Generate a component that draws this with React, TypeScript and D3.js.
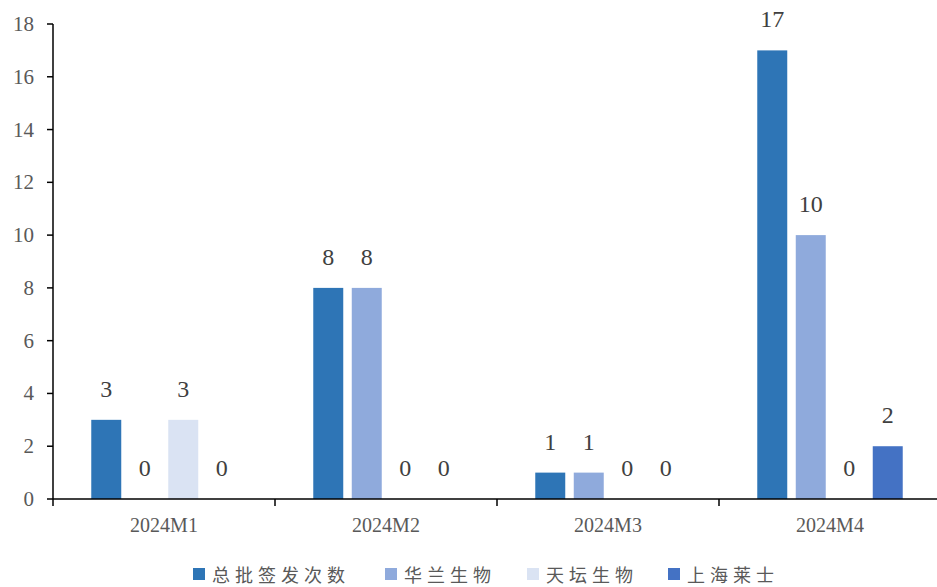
import React from "react";
import * as d3 from "d3";

const categories = ["2024M1", "2024M2", "2024M3", "2024M4"];
const seriesNames = ["总批签发次数", "华兰生物", "天坛生物", "上海莱士"];
const totalValues = [3, 8, 1, 17];
const hualanValues = [0, 8, 1, 10];
const tiantanValues = [3, 0, 0, 0];
const laishiValues = [0, 0, 0, 2];
const yTicks = [0, 2, 4, 6, 8, 10, 12, 14, 16, 18];
const colors = ["#2E75B6", "#8FAADC", "#DAE3F3", "#4472C4"];

const W = 937;
const H = 587;
const serif = "'Liberation Serif', 'DejaVu Serif', serif";
const cjk = "'Noto Sans CJK SC', sans-serif";

export default function App() {
  const seriesValues = [totalValues, hualanValues, tiantanValues, laishiValues];
  const x = d3.scaleBand<string>().domain(categories).range([53, 941]).paddingInner(0).paddingOuter(0);
  const xi = d3
    .scaleBand<string>()
    .domain(seriesNames)
    .range([0, x.bandwidth()])
    .paddingInner(0.221)
    .paddingOuter(0.994);
  const y = d3.scaleLinear().domain([0, 18]).range([499, 24]);

  const legendX = [193, 385, 527, 668];

  return (
    <svg
      width={W}
      height={H}
      style={{ position: "absolute", left: 0, top: 0, background: "#fff" }}
    >
      {categories.map((c, ci) => (
        <g key={c}>
          {seriesNames.map((s, si) => {
            const v = seriesValues[si][ci];
            const bx = (x(c) as number) + (xi(s) as number);
            const bw = xi.bandwidth();
            return (
              <g key={s}>
                {v > 0 && (
                  <rect x={bx} y={y(v)} width={bw} height={y(0) - y(v)} fill={colors[si]} />
                )}
                <text
                  x={bx + bw / 2}
                  y={y(v) - 31}
                  textAnchor="middle"
                  dominantBaseline="central"
                  fontFamily={serif}
                  fontSize={24}
                  fill="#404040"
                >
                  {v}
                </text>
              </g>
            );
          })}
        </g>
      ))}

      <line x1={53} x2={53} y1={y(18)} y2={y(0)} stroke="#000" strokeWidth={1.5} />
      {yTicks.map((t) => (
        <g key={t}>
          <line x1={47} x2={53} y1={y(t)} y2={y(t)} stroke="#000" strokeWidth={1.5} />
          <text
            x={34}
            y={y(t)}
            textAnchor="end"
            dominantBaseline="central"
            fontFamily={serif}
            fontSize={21}
            fill="#595959"
          >
            {t}
          </text>
        </g>
      ))}

      <line x1={53} x2={W} y1={y(0)} y2={y(0)} stroke="#000" strokeWidth={1.5} />
      {categories.map((c) => (
        <g key={c}>
          <line
            x1={x(c) as number}
            x2={x(c) as number}
            y1={y(0)}
            y2={y(0) + 7}
            stroke="#000"
            strokeWidth={1.5}
          />
          <text
            x={(x(c) as number) + x.bandwidth() / 2}
            y={525}
            textAnchor="middle"
            dominantBaseline="central"
            fontFamily={serif}
            fontSize={20}
            fill="#595959"
          >
            {c}
          </text>
        </g>
      ))}

      {seriesNames.map((s, i) => (
        <g key={s}>
          <rect x={legendX[i]} y={568} width={12} height={12} fill={colors[i]} />
          <text
            x={legendX[i] + 19}
            y={574}
            dominantBaseline="central"
            fontFamily={cjk}
            fontSize={18}
            letterSpacing={5}
            fill="#595959"
          >
            {s}
          </text>
        </g>
      ))}
    </svg>
  );
}
